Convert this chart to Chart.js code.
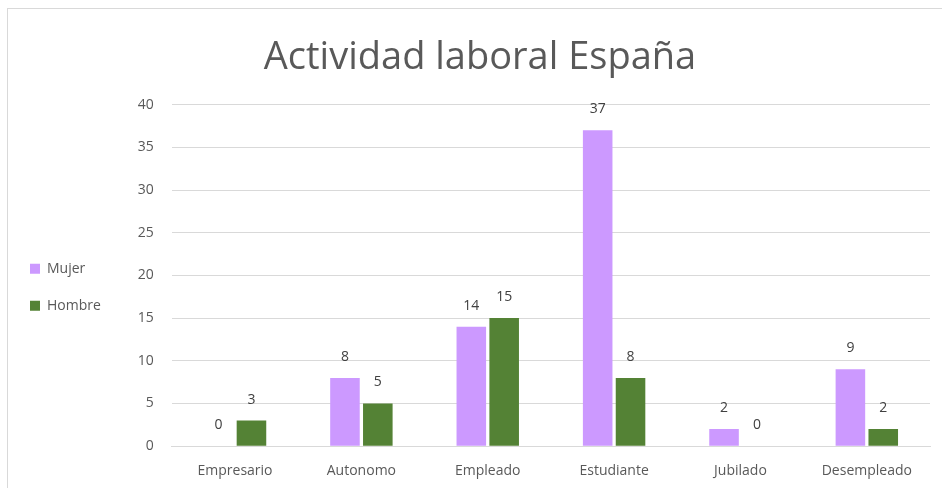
<!DOCTYPE html>
<html>
<head>
<meta charset="utf-8">
<script src="https://cdn.jsdelivr.net/npm/chart.js@4"></script>
<style>
  html, body { margin: 0; padding: 0; background: #fff; }
  #marco { position: absolute; left: 7px; top: 8px; width: 950px; height: 500px;
           border-left: 1px solid #d9d9d9; border-top: 1px solid #d9d9d9; }
  #wrap { position: absolute; left: 0; top: 0; width: 942px; height: 488px; }
</style>
</head>
<body>
<div id="marco"></div>
<div id="wrap"><canvas id="grafico" width="942" height="488"></canvas></div>
<script>
    // Datos del gráfico
    const categorias = ['Empresario', 'Autonomo', 'Empleado', 'Estudiante', 'Jubilado', 'Desempleado'];
    const mujer = [0, 8, 14, 37, 2, 9];
    const hombre = [3, 5, 15, 8, 0, 2];
    const ticksY = [0, 5, 10, 15, 20, 25, 30, 35, 40];

    const gris = '#595959';

    // Plugin para escribir el valor encima de cada barra
    const etiquetas = {
      id: 'etiquetas',
      afterDatasetsDraw(chart) {
        const ctx = chart.ctx;
        ctx.save();
        ctx.font = '14px "Open Sans", sans-serif';
        ctx.fillStyle = '#404040';
        ctx.textAlign = 'center';
        ctx.textBaseline = 'middle';
        chart.data.datasets.forEach((ds, i) => {
          chart.getDatasetMeta(i).data.forEach((bar, j) => {
            ctx.fillText(ds.data[j], bar.x, bar.y - 21);
          });
        });
        ctx.restore();
      }
    };

    const ctx = document.getElementById('grafico').getContext('2d');
    const grafico = new Chart(ctx, {
      type: 'bar',
      data: {
        labels: categorias,
        datasets: [
          { label: 'Mujer', data: mujer, backgroundColor: '#cc99ff' },
          { label: 'Hombre', data: hombre, backgroundColor: '#548235' }
        ]
      },
      options: {
        responsive: false,
        animation: false,
        datasets: { bar: { categoryPercentage: 0.52, barPercentage: 0.9 } },
        layout: { padding: { left: 7, right: -11, top: 35, bottom: 1 } },
        plugins: {
          title: {
            display: true,
            text: 'Actividad laboral España',
            color: gris,
            font: { family: '"Open Sans", sans-serif', size: 38, weight: 'normal' },
            padding: { top: 0, bottom: 24 }
          },
          legend: {
            position: 'left',
            // título vacío para bajar un poco la leyenda
            title: { display: true, text: '', padding: { top: 0, bottom: 38 } },
            labels: {
              color: gris,
              boxWidth: 10,
              boxHeight: 10,
              padding: 23,
              font: { family: '"Open Sans", sans-serif', size: 14 }
            }
          },
          tooltip: { enabled: false }
        },
        scales: {
          x: {
            grid: { display: false },
            border: { color: '#d9d9d9' },
            ticks: { color: gris, padding: 8, font: { family: '"Open Sans", sans-serif', size: 14 } }
          },
          y: {
            min: 0,
            max: 40,
            afterBuildTicks(scale) { scale.ticks = ticksY.map(v => ({ value: v })); },
            afterFit(scale) { scale.width = 61; },
            grid: { color: '#d9d9d9', drawTicks: false },
            border: { display: false },
            ticks: { color: gris, padding: 18, font: { family: '"Open Sans", sans-serif', size: 14 } }
          },
          // eje vacío a la derecha, solo para dejar margen y centrar el título
          margen: {
            type: 'linear',
            position: 'right',
            afterFit(scale) { scale.width = 23; },
            grid: { display: false },
            border: { display: false },
            ticks: { display: false }
          }
        }
      },
      plugins: [etiquetas]
    });
</script>
</body>
</html>
